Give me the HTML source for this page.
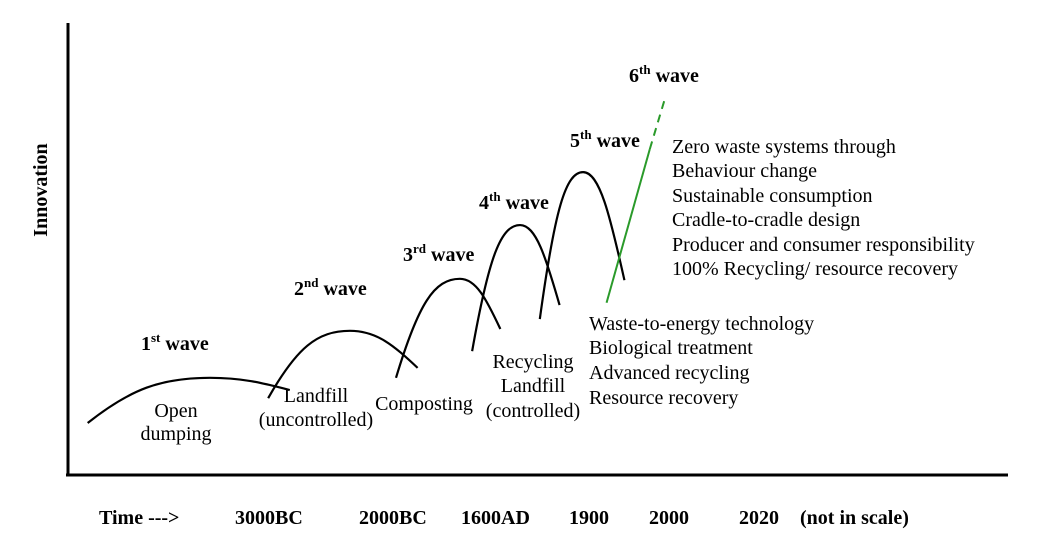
<!DOCTYPE html>
<html><head><meta charset="utf-8"><style>
html,body{margin:0;padding:0;background:#fff}
svg{display:block}
text{font-family:"Liberation Serif",serif;fill:#000}
.b{font-weight:bold;font-size:20px}
.r{font-size:20px}
</style></head><body>
<svg id="chart" width="1063" height="543" viewBox="0 0 1063 543">
<line x1="68" y1="23" x2="68" y2="476" stroke="#000" stroke-width="3"/>
<line x1="66" y1="475" x2="1008" y2="475" stroke="#000" stroke-width="3"/>
<text class="b" transform="translate(47,190) rotate(-90)" text-anchor="middle">Innovation</text>
<g id="ticks"></g>
<g id="waves"></g>
<g>
<text class="r" x="176" y="417" text-anchor="middle">Open</text>
<text class="r" x="176" y="440" text-anchor="middle">dumping</text>
<text class="r" x="316" y="402" text-anchor="middle">Landfill</text>
<text class="r" x="316" y="426" text-anchor="middle">(uncontrolled)</text>
<text class="r" x="424" y="410" text-anchor="middle">Composting</text>
<text class="r" x="533" y="368" text-anchor="middle">Recycling</text>
<text class="r" x="533" y="392" text-anchor="middle">Landfill</text>
<text class="r" x="533" y="417" text-anchor="middle">(controlled)</text>
<text class="r" x="589" y="330">Waste-to-energy technology</text>
<text class="r" x="589" y="354">Biological treatment</text>
<text class="r" x="589" y="379">Advanced recycling</text>
<text class="r" x="589" y="404">Resource recovery</text>
<text class="r" x="672" y="153">Zero waste systems  through</text>
<text class="r" x="672" y="177">Behaviour change</text>
<text class="r" x="672" y="202">Sustainable consumption</text>
<text class="r" x="672" y="226">Cradle-to-cradle design</text>
<text class="r" x="672" y="251">Producer and consumer responsibility</text>
<text class="r" x="672" y="275">100% Recycling/ resource recovery</text>
</g>
</svg>
<script>
const waveNames=["1","2","3","4","5"];
const waveSup=["st","nd","rd","th","th"];
const waveStart=[[2.2,11.5],[21.4,17],[35,21.5],[43.1,27.4],[50.3,34.5]];
const wavePeak=[[15.2,21.5],[30.1,31.9],[41.8,43.4],[48.2,55.3],[54.9,67]];
const waveEnd=[[23.7,18.8],[37.3,23.7],[46.1,32.3],[52.4,37.6],[59.3,43.1]];
const waveLabelPos=[[141,350],[294,295],[403,261],[479,209],[570,147]];
const greenPts=[[57.4,38.1],[62,72.1],[63.6,83.2]];
const tickLabels=["Time --->","3000BC","2000BC","1600AD","1900","2000","2020","(not in scale)"];
const tickX=[99,235,359,461,569,649,739,800];
const NS="http://www.w3.org/2000/svg";
const xS=v=>67+v*9.4, yS=v=>475-v*4.52;
const wg=document.getElementById('waves');
function mk(t,a){const e=document.createElementNS(NS,t);for(const k in a)e.setAttribute(k,a[k]);return e;}
waveStart.forEach((s,i)=>{
  const p=wavePeak[i],e=waveEnd[i];
  const dx1=p[0]-s[0],dy1=p[1]-s[1],dx2=e[0]-p[0];
  const d=`M${xS(s[0])},${yS(s[1])} C${xS(s[0]+0.35*dx1)},${yS(s[1]+0.75*dy1)} ${xS(p[0]-0.4*dx1)},${yS(p[1])} ${xS(p[0])},${yS(p[1])} C${xS(p[0]+0.4*dx2)},${yS(p[1])} ${xS(e[0]-0.35*dx2)},${yS(e[1]+0.6*(p[1]-e[1]))} ${xS(e[0])},${yS(e[1])}`;
  const path=mk('path',{d:d,fill:'none',stroke:'#000','stroke-width':2.2});
  
  
  wg.appendChild(path);
  const t=mk('text',{x:waveLabelPos[i][0],y:waveLabelPos[i][1],class:'b'});
  
  
  t.innerHTML=waveNames[i]+'<tspan font-size="13" dy="-8">'+waveSup[i]+'</tspan><tspan dy="8"> wave</tspan>';
  wg.appendChild(t);
});
const g1=mk('line',{x1:xS(greenPts[0][0]),y1:yS(greenPts[0][1]),x2:xS(greenPts[1][0]),y2:yS(greenPts[1][1]),stroke:'#2a9a2a','stroke-width':2});


wg.appendChild(g1);
const g2=mk('line',{x1:xS(greenPts[1][0]),y1:yS(greenPts[1][1]),x2:xS(greenPts[2][0]),y2:yS(greenPts[2][1]),stroke:'#2a9a2a','stroke-width':2,'stroke-dasharray':'8,6'});


wg.appendChild(g2);
const t6=mk('text',{x:629,y:82,class:'b'});


t6.innerHTML='6<tspan font-size="13" dy="-8">th</tspan><tspan dy="8"> wave</tspan>';
wg.appendChild(t6);
const tg=document.getElementById('ticks');
tickLabels.forEach((l,i)=>{
  const t=mk('text',{x:tickX[i],y:524,class:'b'});
  
  
  t.textContent=l;tg.appendChild(t);
});
</script>
</body></html>
